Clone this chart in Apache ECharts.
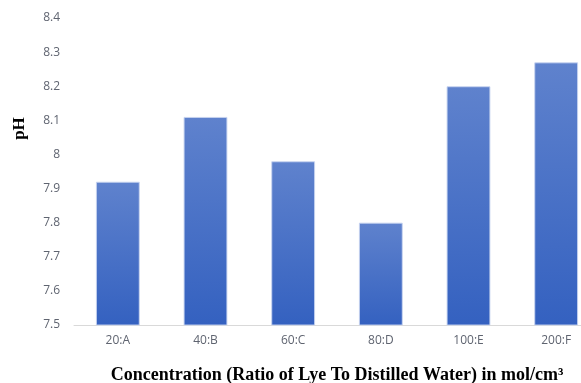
<!DOCTYPE html>
<html>
<head>
<meta charset="utf-8">
<script src="https://cdn.jsdelivr.net/npm/echarts@6/dist/echarts.min.js"></script>
<style>
  html, body { margin: 0; padding: 0; background: #fff; }
  #chart { width: 581px; height: 383px; }
</style>
</head>
<body>
<div id="chart"></div>
<script>
// Concentration ratios (lye : distilled water) and measured pH
const categories = ['20:A', '40:B', '60:C', '80:D', '100:E', '200:F'];
const phValues = [7.92, 8.11, 7.98, 7.80, 8.20, 8.27];
const yMin = 7.5;
const yMax = 8.4;
const yStep = 0.1;

const chart = echarts.init(document.getElementById('chart'));

chart.setOption({
  animation: false,
  grid: { left: 74, top: 18, width: 526, height: 307, outerBoundsMode: 'none', containLabel: false },
  xAxis: {
    type: 'category',
    data: categories,
    name: 'Concentration (Ratio of Lye To Distilled Water) in mol/cm³',
    nameLocation: 'middle',
    nameGap: 41,
    nameTextStyle: {
      fontFamily: 'Liberation Serif',
      fontWeight: 'bold',
      fontSize: 18,
      color: '#000'
    },
    axisLine: { lineStyle: { color: '#d9d9d9', width: 1 } },
    axisTick: { show: false },
    axisLabel: { color: '#5f6470', fontFamily: 'Open Sans', fontSize: 12, margin: 10 }
  },
  yAxis: {
    type: 'value',
    min: yMin,
    max: yMax,
    interval: yStep,
    name: 'pH',
    nameLocation: 'middle',
    nameGap: 46,
    nameRotate: 90,
    nameTextStyle: {
      fontFamily: 'Liberation Serif',
      fontWeight: 'bold',
      fontSize: 17,
      color: '#000',
      padding: [0, 0, 0, 86]
    },
    axisLine: { show: false },
    axisTick: { show: false },
    splitLine: { show: false },
    axisLabel: {
      color: '#5f6470',
      fontFamily: 'Open Sans',
      fontSize: 12,
      margin: 14,
      formatter: v => String(Math.round(v * 10) / 10)
    }
  },
  series: [{
    type: 'bar',
    data: phValues,
    barCategoryGap: '50%',
    itemStyle: {
      color: new echarts.graphic.LinearGradient(0, 0, 0, 1, [
        { offset: 0, color: '#5f82cd' },
        { offset: 1, color: '#3461c0' }
      ]),
      borderColor: 'rgba(200,212,240,0.9)',
      borderWidth: 1
    }
  }]
});
</script>
</body>
</html>
